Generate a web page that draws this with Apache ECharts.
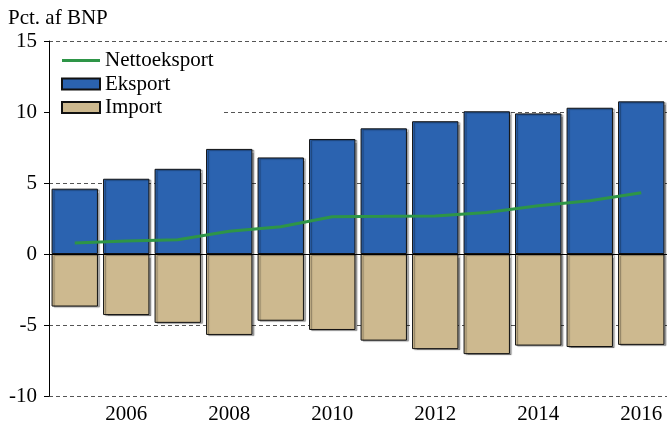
<!DOCTYPE html>
<html>
<head>
<meta charset="utf-8">
<script src="https://cdn.jsdelivr.net/npm/echarts@6/dist/echarts.min.js"></script>
<style>
  html, body { margin: 0; padding: 0; background: #fff; }
  #chart { width: 667px; height: 421px; }
</style>
</head>
<body>
<div id="chart"></div>
<script>
// år (kategorier)
const years = ['2005', '2006', '2007', '2008', '2009', '2010', '2011', '2012', '2013', '2014', '2015', '2016'];
// eksport, pct. af BNP
const eksport = [4.6, 5.3, 6.0, 7.4, 6.8, 8.1, 8.85, 9.35, 10.05, 9.9, 10.3, 10.75];
// import, pct. af BNP (negativ)
const importVals = [-3.7, -4.3, -4.85, -5.7, -4.7, -5.35, -6.1, -6.7, -7.05, -6.45, -6.55, -6.4];
// nettoeksport
const netto = [0.78, 0.92, 1.0, 1.6, 1.92, 2.63, 2.65, 2.68, 2.93, 3.4, 3.75, 4.32];
// y-akse
const yTicks = [-10, -5, 0, 5, 10, 15];

const font = 'Liberation Serif';
const green = '#2e9547';
const myChart = echarts.init(document.getElementById('chart'));

myChart.setOption({
  animation: false,
  textStyle: { fontFamily: font },
  title: {
    text: 'Pct. af BNP',
    left: 3,
    top: 3,
    textStyle: { fontFamily: font, fontSize: 21, fontWeight: 'normal', color: '#000' }
  },
  grid: { left: 49, right: 0, top: 41, bottom: 25, outerBoundsMode: 'none', containLabel: false },
  legend: {
    orient: 'vertical',
    left: 50,
    top: 46,
    padding: [4, 9, 2, 11],
    backgroundColor: '#fff',
    itemWidth: 38,
    itemHeight: 11,
    itemGap: 2.5,
    textStyle: { fontFamily: font, fontSize: 21, lineHeight: 21, color: '#000' },
    data: [
      { name: 'Nettoeksport', icon: 'path://M0,0 H38 V3 H0 Z', itemStyle: { color: green, borderWidth: 0 } },
      { name: 'Eksport', icon: 'rect' },
      { name: 'Import', icon: 'rect' }
    ]
  },
  xAxis: {
    type: 'category',
    data: years,
    axisLine: { lineStyle: { color: '#000', width: 1 } },
    axisTick: { interval: 0, length: 5, lineStyle: { color: '#000' } },
    axisLabel: {
      interval: (i) => i % 2 === 1,
      color: '#000',
      fontSize: 21,
      fontFamily: font,
      margin: 8
    },
    splitLine: { show: false }
  },
  yAxis: {
    type: 'value',
    min: yTicks[0],
    max: yTicks[yTicks.length - 1],
    interval: 5,
    axisLine: { show: true, lineStyle: { color: '#000' } },
    axisTick: { show: true, length: 5, lineStyle: { color: '#000' } },
    axisLabel: { color: '#000', fontSize: 21, fontFamily: font, margin: 12 },
    splitLine: { show: true, lineStyle: { color: '#555', type: [4, 3], width: 1 } }
  },
  series: [
    {
      name: 'Eksport',
      type: 'bar',
      stack: 'handel',
      data: eksport,
      barCategoryGap: '10%',
      itemStyle: {
        color: '#2b63b0',
        borderColor: '#111',
        borderWidth: 1,
        shadowColor: 'rgba(0,0,0,0.35)',
        shadowOffsetX: 2,
        shadowOffsetY: 1,
        shadowBlur: 1
      },
      markLine: {
        silent: true,
        symbol: 'none',
        label: { show: false },
        lineStyle: { color: '#000', type: 'solid', width: 1 },
        data: [{ yAxis: 0 }]
      },
      z: 2
    },
    {
      name: 'Import',
      type: 'bar',
      stack: 'handel',
      data: importVals,
      itemStyle: {
        color: '#cdb98f',
        borderColor: '#111',
        borderWidth: 1,
        shadowColor: 'rgba(0,0,0,0.35)',
        shadowOffsetX: 2,
        shadowOffsetY: 1,
        shadowBlur: 1
      },
      z: 2
    },
    {
      name: 'Nettoeksport',
      type: 'line',
      data: netto,
      symbol: 'none',
      lineStyle: { color: green, width: 3 },
      itemStyle: { color: green },
      z: 5
    }
  ]
});
</script>
</body>
</html>
